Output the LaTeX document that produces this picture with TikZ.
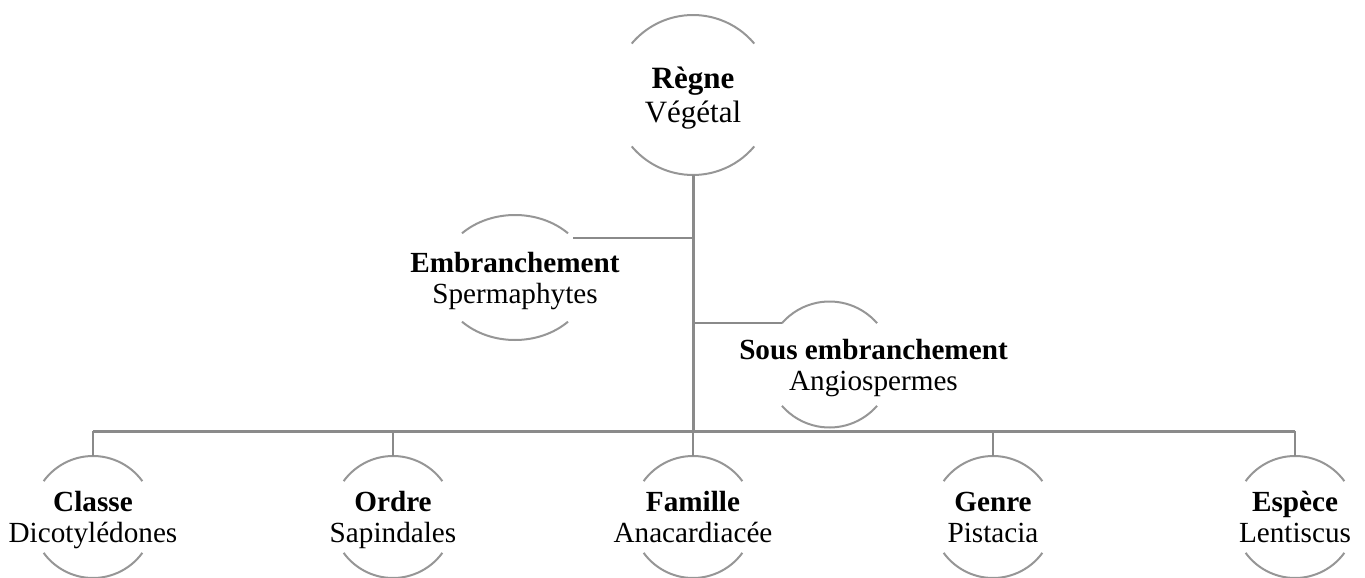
\documentclass[tikz,border=0pt]{standalone}
\usepackage{fontspec}
\setmainfont{Liberation Serif}
\usetikzlibrary{positioning,shapes.geometric}
\definecolor{linegray}{RGB}{138,138,138}
\definecolor{ringgray}{RGB}{150,150,150}

\begin{document}
\begin{tikzpicture}[on grid, node distance=300pt,
ring/.style={circle, minimum size=#1, inner sep=0pt, outer sep=0pt},
ring/.default=122pt,
taxon/.style={align=center, inner sep=0pt, yshift=-5pt,
  font=\fontsize{29.2pt}{31pt}\selectfont,
  execute at begin node=\strut, execute at end node=\strut},
arcline/.style={ringgray, line width=2pt},
link/.style={linegray, line width=2pt},
trunk/.style={linegray, line width=3pt}]
% circles
\node[ring=160pt] (regne) {};
\node[ring] (famille) [below=422pt of regne] {};
\node[ring] (ordre) [left=of famille] {};
\node[ring] (classe) [left=of ordre] {};
\node[ring] (genre) [right=of famille] {};
\node[ring] (espece) [right=302pt of genre] {};
\node[ellipse, minimum width=150pt, minimum height=125pt, inner sep=0pt, outer sep=0pt]
  (embr) [below left=182.5pt and 178pt of regne] {};
\node[ring=126pt] (sousembr) [below right=269.5pt and 136.5pt of regne] {};
\coordinate[above=86pt of famille] (bus);

\useasboundingbox ([shift={(-693pt,95pt)}]regne.center) rectangle ++(1365pt,-577pt);

% texts
\node[taxon, font=\fontsize{31pt}{34pt}\selectfont] (regnetxt) at (regne) {\textbf{Règne}\\Végétal};
\node[taxon] (embrtxt) at (embr) {\textbf{Embranchement}\\Spermaphytes};
\node[taxon, xshift=44pt] (sousembrtxt) at (sousembr) {\textbf{Sous embranchement}\\Angiospermes};
\node[taxon] (classetxt) at (classe) {\textbf{Classe}\\Dicotylédones};
\node[taxon] (ordretxt) at (ordre) {\textbf{Ordre}\\Sapindales};
\node[taxon] (familletxt) at (famille) {\textbf{Famille}\\Anacardiacée};
\node[taxon] (genretxt) at (genre) {\textbf{Genre}\\Pistacia};
\node[taxon] (especetxt) at (espece) {\textbf{Espèce}\\Lentiscus};

% arcs
\foreach \n/\r/\a in {regne/80/40, sousembr/63/41, classe/61/36, ordre/61/36,
  famille/61/36, genre/61/36, espece/61/36}{
  \draw[arcline] (\n.\a) arc[start angle=\a, end angle=180-\a, radius=\r pt];
  \draw[arcline] (\n.-\a) arc[start angle=-\a, end angle=-180+\a, radius=\r pt];
}
\draw[arcline] (embr.center) ++(45:75pt and 62.5pt)
  arc[start angle=45, end angle=135, x radius=75pt, y radius=62.5pt];
\draw[arcline] (embr.center) ++(-45:75pt and 62.5pt)
  arc[start angle=-45, end angle=-135, x radius=75pt, y radius=62.5pt];

% connectors
\draw[trunk] (regne.south) -- (bus);
\draw[trunk] (classe.north |- bus) -- (espece.north |- bus);
\foreach \c in {classe, ordre, famille, genre, espece}
  \draw[link] (\c.north) -- (\c.north |- bus);
\draw[link] (embr.34) -- (embr.34 -| regne.south);
\draw[link] (sousembr.139) -- (sousembr.139 -| regne.south);
\end{tikzpicture}
\end{document}
